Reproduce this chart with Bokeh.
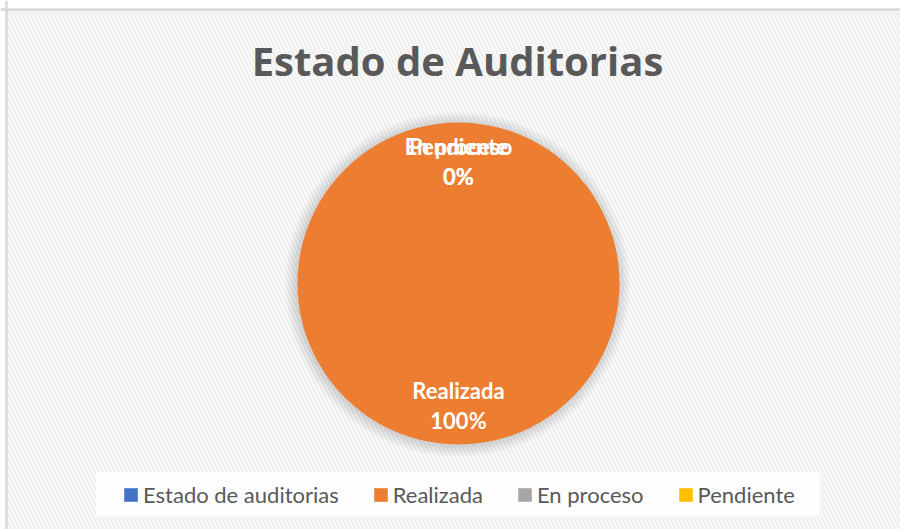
import numpy as np
from bokeh.plotting import figure
from bokeh.models import (ColumnDataSource, Range1d, Legend, LegendItem, Label,
                          Span, BoxAnnotation)
from bokeh.core.properties import value
from bokeh.embed import file_html
from bokeh.resources import INLINE

# ---- data ----
title_text = "Estado de Auditorias"
categories = ["Estado de auditorias", "Realizada", "En proceso", "Pendiente"]
values = [None, 1, 0, 0]          # header row has no value in the source sheet
colors = ["#4472C4", "#ED7D31", "#A5A5A5", "#FFC000"]

# ---- layout (reference pixel coordinates, origin top-left of figure) ----
W, H = 900, 529
def ry(y):  # reference pixel row -> data y
    return H - y

cx, cy, R = 458, ry(283), 161

p = figure(width=W, height=H, output_backend="svg", toolbar_location=None,
           x_range=Range1d(0, W), y_range=Range1d(0, H),
           x_axis_type=None, y_axis_type=None, min_border=0)
p.grid.visible = False
p.outline_line_color = None
p.background_fill_color = "white"
p.border_fill_color = "white"

# hatched chart-area background
p.add_layout(BoxAnnotation(left=6, top=ry(9), fill_color="white", fill_alpha=1,
                           line_color=None, hatch_pattern="\\", hatch_color="#efefef",
                           hatch_scale=8, hatch_weight=2.5, level="underlay"))
# chart border (top / left)
p.add_layout(Span(location=6, dimension="height", line_color="#d9d9d9", line_width=2.5))
p.add_layout(Span(location=ry(9), dimension="width", line_color="#d9d9d9", line_width=2.5))

# legend backdrop
p.add_layout(BoxAnnotation(left=95, right=820, bottom=ry(515), top=ry(472),
                           fill_color="white", fill_alpha=0.85, line_color=None))

# soft shadow around pie
ks = list(range(1, 13))
p.circle(x=[cx - 1] * len(ks), y=[cy - 1] * len(ks), radius=[R + k for k in ks],
         fill_color="black", fill_alpha=0.012, line_color=None)

# ---- pie ----
vals = np.array([0 if v is None else v for v in values], dtype=float)
frac = vals / vals.sum()
cum_end = np.cumsum(frac)
cum_start = cum_end - frac
span_ang = np.minimum(frac * 2 * np.pi, 2 * np.pi - 1e-4)   # full circle guard
start = np.pi / 2 - cum_start * 2 * np.pi
end = start - span_ang
radius = [R if f > 0 else 0 for f in frac]
src = ColumnDataSource(dict(cat=categories, start=start, end=end, color=colors, r=radius))
wr = p.wedge(x=cx, y=cy, radius="r", start_angle="start", end_angle="end",
             direction="clock", fill_color="color", line_color=None, source=src)

# ---- data labels ----
mid = (cum_start + cum_end) / 2 * 2 * np.pi
lr = 0.755 * R
lab_idx = [i for i, v in enumerate(values) if v is not None]
lab = ColumnDataSource(dict(
    x=[cx + lr * np.sin(mid[i]) for i in lab_idx],
    y=[cy + lr * np.cos(mid[i]) for i in lab_idx],
    name=[categories[i] for i in lab_idx],
    pct=["%d%%" % round(frac[i] * 100) for i in lab_idx],
))
common = dict(source=lab, text_font=value("Lato"), text_font_size=value("22px"),
              text_font_style="bold", text_color="white", text_align="center",
              text_baseline="middle")
p.text(x="x", y="y", text="name", y_offset=-15, **common)
p.text(x="x", y="y", text="pct", y_offset=15, **common)

# ---- title ----
p.add_layout(Label(x=457, y=ry(60), text=title_text, text_align="center",
                   text_baseline="middle", text_font="Open Sans", text_font_size="40px",
                   text_font_style="bold", text_color="#595959"))

# ---- legend ----
legend = Legend(items=[LegendItem(label=c, renderers=[wr], index=i)
                       for i, c in enumerate(categories)],
                orientation="horizontal", location=(122, 21),
                glyph_width=17, glyph_height=17, label_standoff=4, spacing=33,
                padding=5, margin=0, background_fill_alpha=0,
                border_line_color=None, label_text_font="Lato",
                label_text_font_size="22px", label_text_color="#595959")
p.add_layout(legend, "center")

open("out.html", "w").write(file_html(p, INLINE))
